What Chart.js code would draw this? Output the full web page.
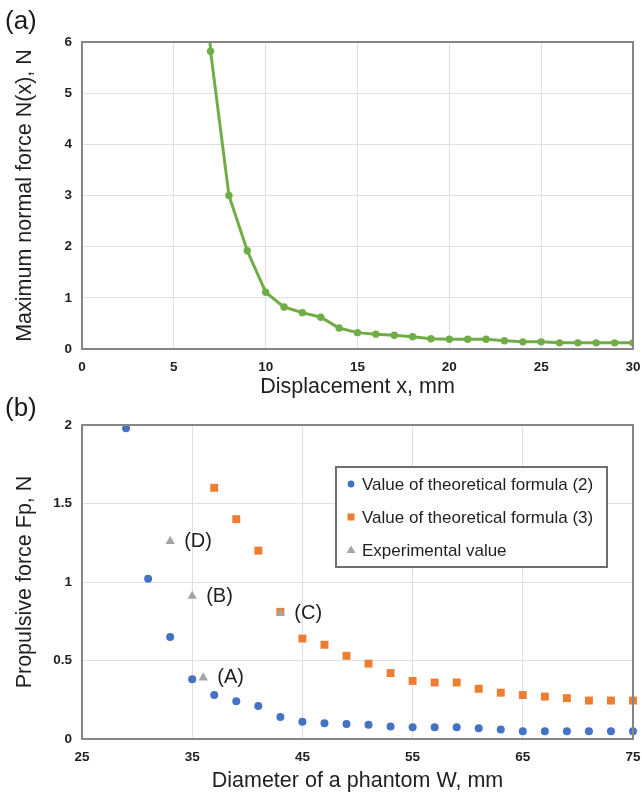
<!DOCTYPE html>
<html>
<head>
<meta charset="utf-8">
<script src="https://cdn.jsdelivr.net/npm/chart.js"></script>
<style>
  html, body { margin: 0; padding: 0; background: #fff; }
  #page { position: relative; width: 642px; height: 796px; overflow: hidden; }
  .panel { position: absolute; left: 0; }
  .tag { position: absolute; left: 5px; font: 26px "Liberation Sans", Arial, sans-serif; line-height: 30px; color: #1a1a1a; }
</style>
</head>
<body>
<div id="page">
  <canvas id="chart-a" class="panel" width="642" height="400" style="top:0"></canvas>
  <canvas id="chart-b" class="panel" width="642" height="398" style="top:398px"></canvas>
  <div class="tag" style="top:5px">(a)</div>
  <div class="tag" style="top:392px">(b)</div>
</div>
<script>
'use strict';

// data, panel (a)
var dispX = [6, 7, 8, 9, 10, 11, 12, 13, 14, 15, 16, 17, 18, 19, 20, 21, 22, 23, 24, 25, 26, 27, 28, 29, 30];
var normalForce = [11.6, 5.82, 3.00, 1.92, 1.11, 0.82, 0.71, 0.62, 0.41, 0.32, 0.29, 0.27, 0.24, 0.20, 0.19, 0.19, 0.19, 0.16, 0.14, 0.14, 0.12, 0.12, 0.12, 0.12, 0.12];

// data, panel (b)
var theory2W = [29, 31, 33, 35, 37, 39, 41, 43, 45, 47, 49, 51, 53, 55, 57, 59, 61, 63, 65, 67, 69, 71, 73, 75];
var theory2F = [1.98, 1.02, 0.65, 0.38, 0.28, 0.24, 0.21, 0.14, 0.11, 0.10, 0.095, 0.09, 0.08, 0.075, 0.075, 0.075, 0.068, 0.06, 0.05, 0.05, 0.05, 0.05, 0.05, 0.05];
var theory3W = [37, 39, 41, 43, 45, 47, 49, 51, 53, 55, 57, 59, 61, 63, 65, 67, 69, 71, 73, 75];
var theory3F = [1.60, 1.40, 1.20, 0.81, 0.64, 0.60, 0.53, 0.48, 0.42, 0.37, 0.36, 0.36, 0.32, 0.295, 0.28, 0.27, 0.26, 0.245, 0.245, 0.245];
var expW = [36, 35, 43, 33];
var expF = [0.39, 0.91, 0.80, 1.26];
var expLabels = ['(A)', '(B)', '(C)', '(D)'];

var seriesNames = ['Value of theoretical formula (2)', 'Value of theoretical formula (3)', 'Experimental value'];

function pairs(xs, ys) {
  return xs.map(function(x, i) { return { x: x, y: ys[i] }; });
}

var FONT = '"Liberation Sans", Arial, sans-serif';
var TEXT = '#1f1f1f';
var GRID = '#e0e0e0';

// grey box round the plot area
var frame = {
  id: 'frame',
  afterDraw: function(chart) {
    var a = chart.chartArea, ctx = chart.ctx;
    ctx.save();
    ctx.strokeStyle = '#858585';
    ctx.lineWidth = 2;
    ctx.strokeRect(a.left, a.top, a.right - a.left, a.bottom - a.top);
    ctx.restore();
  }
};

function axis(min, max, step, title, tickPad, titlePad, fit) {
  return {
    type: 'linear',
    min: min,
    max: max,
    ticks: {
      stepSize: step,
      padding: tickPad,
      color: TEXT,
      font: { family: FONT, size: 13.5, weight: 'bold' },
      callback: function(v) { return String(v); }
    },
    grid: { color: GRID, lineWidth: 1, drawTicks: false },
    border: { display: false },
    title: { display: true, text: title, color: TEXT, padding: titlePad, font: { family: FONT, size: 21.5 } },
    afterFit: fit
  };
}

//
// Panel (a)
//
new Chart(document.getElementById('chart-a').getContext('2d'), {
  type: 'line',
  data: {
    datasets: [{
      data: pairs(dispX, normalForce),
      borderColor: '#70ad47',
      backgroundColor: '#70ad47',
      borderWidth: 3,
      pointRadius: 3.7,
      pointBorderWidth: 0,
      tension: 0
    }]
  },
  options: {
    responsive: false,
    animation: false,
    layout: { padding: { top: 42, right: 9, bottom: 0, left: 0 } },
    plugins: { legend: { display: false }, tooltip: { enabled: false } },
    scales: {
      x: axis(0, 30, 5, 'Displacement x, mm', 10, { bottom: 0 }, function(s) {
        s.height = 51; s.paddingLeft = 0; s.paddingRight = 0;
      }),
      y: axis(0, 6, 1, 'Maximum normal force N(x), N', 10, { top: 12 }, function(s) {
        s.width = 82;
      })
    }
  },
  plugins: [frame]
});

//
// Panel (b)
//
var pointTags = {
  id: 'pointTags',
  afterDatasetsDraw: function(chart) {
    var meta = chart.getDatasetMeta(2), ctx = chart.ctx;
    ctx.save();
    ctx.fillStyle = TEXT;
    ctx.font = '20px ' + FONT;
    ctx.textAlign = 'left';
    ctx.textBaseline = 'middle';
    meta.data.forEach(function(pt, i) {
      ctx.fillText(expLabels[i], pt.x + 14, pt.y);
    });
    ctx.restore();
  }
};

var boxLegend = {
  id: 'boxLegend',
  afterDraw: function(chart) {
    var a = chart.chartArea, ctx = chart.ctx;
    var left = a.left + 254, top = a.top + 42;
    ctx.save();
    ctx.fillStyle = '#fff';
    ctx.fillRect(left, top, 271, 100);
    ctx.strokeStyle = '#6f6f6f';
    ctx.lineWidth = 2;
    ctx.strokeRect(left, top, 271, 100);
    ctx.font = '17px ' + FONT;
    ctx.textBaseline = 'middle';
    chart.data.datasets.forEach(function(ds, i) {
      var cx = left + 15, cy = top + 17 + i * 33;
      ctx.fillStyle = ds.backgroundColor;
      ctx.beginPath();
      if (ds.pointStyle === 'rect') {
        ctx.rect(cx - 3.5, cy - 3.5, 7, 7);
      } else if (ds.pointStyle === 'triangle') {
        ctx.moveTo(cx, cy - 4.5);
        ctx.lineTo(cx + 4.5, cy + 3);
        ctx.lineTo(cx - 4.5, cy + 3);
        ctx.closePath();
      } else {
        ctx.arc(cx, cy, 3.4, 0, Math.PI * 2);
      }
      ctx.fill();
      ctx.fillStyle = TEXT;
      ctx.fillText(ds.label, left + 26, cy + 1);
    });
    ctx.restore();
  }
};

new Chart(document.getElementById('chart-b').getContext('2d'), {
  type: 'scatter',
  data: {
    datasets: [{
      label: seriesNames[0],
      data: pairs(theory2W, theory2F),
      pointStyle: 'circle',
      pointRadius: 4,
      backgroundColor: '#4472c4',
      borderWidth: 0,
      order: 2
    }, {
      label: seriesNames[1],
      data: pairs(theory3W, theory3F),
      pointStyle: 'rect',
      pointRadius: 5.6,
      backgroundColor: '#ed7d31',
      borderWidth: 0,
      order: 1
    }, {
      label: seriesNames[2],
      data: pairs(expW, expF),
      pointStyle: 'triangle',
      pointRadius: 5.4,
      backgroundColor: '#a5a5a5',
      borderWidth: 0,
      order: 0
    }]
  },
  options: {
    responsive: false,
    animation: false,
    clip: false,
    layout: { padding: { top: 27, right: 9, bottom: 0, left: 0 } },
    plugins: { legend: { display: false }, tooltip: { enabled: false } },
    scales: {
      x: axis(25, 75, 10, 'Diameter of a phantom W, mm', 10, { bottom: 2 }, function(s) {
        s.height = 57; s.paddingLeft = 0; s.paddingRight = 0;
      }),
      y: axis(0, 2, 0.5, 'Propulsive force Fp, N', 10, { top: 12 }, function(s) {
        s.width = 82;
      })
    }
  },
  plugins: [frame, pointTags, boxLegend]
});
</script>
</body>
</html>
